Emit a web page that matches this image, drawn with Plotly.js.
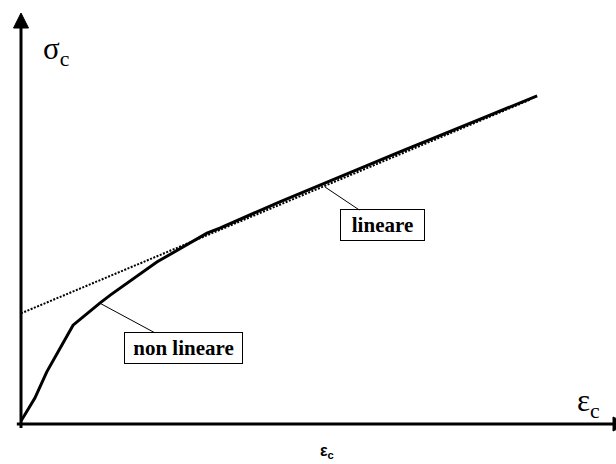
<!DOCTYPE html>
<html>
<head>
<meta charset="utf-8">
<script src="https://cdn.plot.ly/plotly-3.0.1.min.js"></script>
<style>html,body{margin:0;padding:0;background:#fff;}#chart{width:616px;height:464px;}</style>
</head>
<body>
<div id="chart"></div>
<script>
// Non-linear stress-strain curve (arbitrary units)
const strainNonLinear = [0, 0.28, 0.52, 1.05, 1.59, 1.80, 2.74, 3.75, 4.01, 5.22, 6.43, 7.64, 9.26, 10.41];
const stressNonLinear = [0.07, 0.61, 1.23, 2.33, 2.85, 3.04, 3.82, 4.50, 4.62, 5.24, 5.83, 6.42, 7.19, 7.74];
// Linear approximation (dotted)
const strainLinear = [0, 10.27];
const stressLinear = [2.61, 7.65];
// Texts
const labelNonLinear = 'non lineare';
const labelLinear = 'lineare';
const labelStress = 'σ<sub>c</sub>';
const labelStrain = 'ε<sub>c</sub>';

const serif = 'Liberation Serif, Times New Roman, serif';

const traces = [
  {
    x: strainLinear, y: stressLinear, mode: 'lines', name: labelLinear,
    line: {color: '#000', width: 2, dash: '2px,1.5px'}, hoverinfo: 'skip', cliponaxis: false
  },
  {
    x: strainNonLinear, y: stressNonLinear, mode: 'lines', name: labelNonLinear,
    line: {color: '#000', width: 3}, hoverinfo: 'skip', cliponaxis: false
  }
];

const layout = {
  width: 616, height: 464,
  margin: {l: 21, r: 0, t: 0, b: 40, pad: 0},
  paper_bgcolor: '#fff', plot_bgcolor: '#fff',
  showlegend: false,
  xaxis: {range: [0, 12], showgrid: false, zeroline: false, showline: false, showticklabels: false, ticks: '', fixedrange: true},
  yaxis: {range: [0, 10], showgrid: false, zeroline: false, showline: false, showticklabels: false, ticks: '', fixedrange: true},
  shapes: [
    // vertical axis line + arrowhead
    {type: 'line', xref: 'paper', yref: 'paper', x0: 0, x1: 0, y0: -0.0094, y1: 0.935,
     line: {color: '#000', width: 3}},
    {type: 'path', xref: 'paper', yref: 'paper', xsizemode: 'pixel', ysizemode: 'pixel',
     xanchor: 0, yanchor: 0.9693, path: 'M0,0 L-7.5,-15 L7.5,-15 Z',
     fillcolor: '#000', line: {color: '#000', width: 1}},
    // horizontal axis line + arrowhead
    {type: 'line', xref: 'paper', yref: 'paper', x0: -0.007, x1: 1.0, y0: 0, y1: 0,
     line: {color: '#000', width: 3}},
    {type: 'path', xref: 'paper', yref: 'paper', xsizemode: 'pixel', ysizemode: 'pixel',
     xanchor: 1.0202, yanchor: 0, path: 'M0,0 L-15,7 L-15,-7 Z',
     fillcolor: '#000', line: {color: '#000', width: 1}}
  ],
  annotations: [
    {
      text: labelStress, x: 0.40, y: 8.80, xref: 'x', yref: 'y', xanchor: 'left', yanchor: 'middle',
      showarrow: false, font: {family: serif, size: 31, color: '#000'}
    },
    {
      text: labelStrain, x: 11.17, y: 0.50, xref: 'x', yref: 'y', xanchor: 'left', yanchor: 'middle',
      showarrow: false, font: {family: serif, size: 31, color: '#000'}
    },
    {
      text: '<b>' + labelStrain + '</b>', x: 0.515, y: -0.0925, xref: 'paper', yref: 'paper', xanchor: 'center', yanchor: 'bottom',
      showarrow: false, font: {family: 'Liberation Sans, Arial, sans-serif', size: 16, color: '#000'}
    },
    {
      text: '<b>' + labelNonLinear + '</b>', x: 1.59, y: 2.85, xref: 'x', yref: 'y',
      showarrow: true, ax: 83.5, ay: 45, arrowhead: 0, arrowwidth: 1, arrowcolor: '#000', standoff: 0,
      bordercolor: '#000', borderwidth: 1, borderpad: 0, bgcolor: '#fff', width: 117, height: 30,
      font: {family: serif, size: 21, color: '#000'}
    },
    {
      text: '<b>' + labelLinear + '</b>', x: 6.13, y: 5.59, xref: 'x', yref: 'y',
      showarrow: true, ax: 57.5, ay: 38.5, arrowhead: 0, arrowwidth: 1, arrowcolor: '#000', standoff: 0,
      bordercolor: '#000', borderwidth: 1, borderpad: 0, bgcolor: '#fff', width: 83, height: 30,
      font: {family: serif, size: 21, color: '#000'}
    }
  ]
};

Plotly.newPlot('chart', traces, layout, {displayModeBar: false, staticPlot: true});
</script>
</body>
</html>
